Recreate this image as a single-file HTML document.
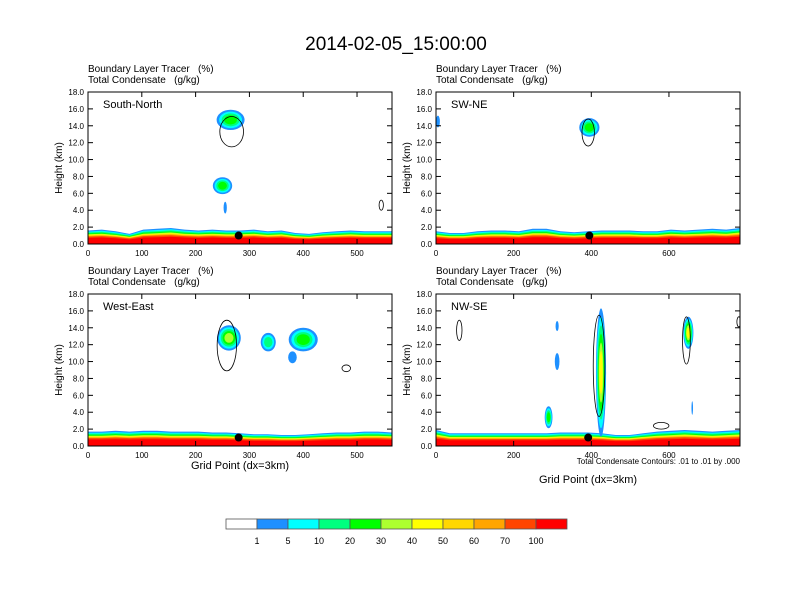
<!DOCTYPE html>
<html><head><meta charset="utf-8"><style>
body{margin:0;background:#fff}
svg{display:block;font-family:"Liberation Sans",sans-serif}
text{white-space:pre}
</style></head><body>
<svg id="fig" width="792" height="612" viewBox="0 0 792 612">
<text x="396" y="50" font-size="19" text-anchor="middle">2014-02-05_15:00:00</text>
<g id="panels"></g>
<g id="cbar"></g>
</svg>
<script>
const levels=["1","5","10","20","30","40","50","60","70","100"];
const colors=["#ffffff","#1e90ff","#00ffff","#00ff7f","#00ff00","#adff2f","#ffff00","#ffd700","#ffa500","#ff4500","#ff0000"];
const panelNames=["South-North","SW-NE","West-East","NW-SE"];
const xMaxes=[565,783,565,783];
const xTickVals=[[0,100,200,300,400,500],[0,200,400,600],[0,100,200,300,400,500],[0,200,400,600]];
const yTickVals=[0,2,4,6,8,10,12,14,16,18];
// boundary layer top (km) sampled evenly across x
const blTop=[
 [1.6,1.7,1.5,1.2,1.7,1.8,1.9,1.7,1.6,1.7,1.6,1.6,1.7,1.5,1.6,1.3,1.2,1.4,1.5,1.6,1.5,1.5,1.5],
 [1.5,1.3,1.3,1.5,1.6,1.6,1.5,1.8,1.8,1.5,1.4,1.5,1.6,1.6,1.6,1.5,1.5,1.7,1.6,1.7,1.8,1.7,1.9],
 [1.7,1.7,1.8,1.7,1.8,1.8,1.7,1.7,1.7,1.6,1.6,1.5,1.4,1.4,1.3,1.3,1.4,1.5,1.6,1.6,1.7,1.7,1.6],
 [1.9,1.5,1.5,1.5,1.5,1.5,1.5,1.5,1.5,1.6,1.6,1.6,1.5,1.3,1.3,1.5,1.7,1.8,1.9,1.8,1.7,1.8,1.9]
];
// clouds: [x, z(km), halfwidth(units), halfheight(km), peak level index]
const clouds=[
 [[265,14.7,26,1.2,4],[250,6.9,18,1.0,4],[255,4.3,3,0.7,1]],
 [[395,13.8,26,1.1,4],[5,14.5,5,0.7,1]],
 [[262,12.8,22,1.5,5],[335,12.3,14,1.1,3],[400,12.6,27,1.4,4],[380,10.5,8,0.7,1]],
 [[425,8.7,13,7.6,6],[312,10,6,1,1],[312,14.2,4,0.6,1],[290,3.4,10,1.3,4],[650,13.4,13,1.9,6],[660,4.5,2,0.8,1]]
];
// condensate contours: [x, z(km), halfwidth(units), halfheight(km)]
const contours=[
 [[267,13.3,22,1.8],[545,4.6,4,0.6]],
 [[392,13.2,16,1.6]],
 [[258,11.9,18,3.0],[480,9.2,8,0.4]],
 [[60,13.7,7,1.2],[420,9.5,15,6],[645,12.5,10,2.8],[780,14.7,5,0.6],[580,2.4,20,0.4]]
];
const markerX=[280,395,280,392];
const panelPos=[[88,92],[436,92],[88,294],[436,294]];
const W=304,H=152;
const NS="http://www.w3.org/2000/svg";
function mk(tag,attrs,parent){const e=document.createElementNS(NS,tag);for(const k in attrs)e.setAttribute(k,attrs[k]);parent.appendChild(e);return e;}
const root=document.getElementById('panels');
const fr=[1.0,0.92,0.85,0.78,0.72,0.68,0.64,0.6,0.55,0.45];
for(let p=0;p<4;p++){
 const [x0,y0]=panelPos[p];const xm=xMaxes[p];
 const sx=v=>x0+v/xm*W, sy=v=>y0+H-v/18*H;
 const g=mk('g',{},root);
 
 
 const t1=mk('text',{x:x0,y:y0-20,'font-size':10},g);t1.textContent="Boundary Layer Tracer   (%)";
 
 const t2=mk('text',{x:x0,y:y0-9,'font-size':10},g);t2.textContent="Total Condensate   (g/kg)";
 
 const cp=mk('clipPath',{id:'c'+p},g);mk('rect',{x:x0,y:y0,width:W,height:H},cp);
 const pg=mk('g',{'clip-path':'url(#c'+p+')'},g);
 const bl=blTop[p];const n=bl.length;
 for(let b=0;b<fr.length;b++){
  let d='M'+sx(0)+','+sy(0);
  for(let i=0;i<n;i++){d+=' L'+sx(i/(n-1)*xm).toFixed(1)+','+sy(bl[i]*fr[b]).toFixed(1);}
  d+=' L'+sx(xm)+','+sy(0)+'Z';
  const path=mk('path',{d:d,fill:colors[b+1]},pg);
  
  
 }
 clouds[p].forEach(c=>{
  for(let l=1;l<=c[4];l++){
   const f=1-(l-1)/(c[4]+1.5);
   const e=mk('ellipse',{cx:sx(c[0]),cy:sy(c[1]),rx:c[2]/xm*W*f,ry:c[3]/18*H*f,fill:colors[l]},pg);
   
   
  }
 });
 contours[p].forEach(c=>{
  const e=mk('ellipse',{cx:sx(c[0]),cy:sy(c[1]),rx:c[2]/xm*W,ry:c[3]/18*H,fill:'none',stroke:'#000','stroke-width':0.8},pg);
  
  
 });
 const m=mk('circle',{cx:sx(markerX[p]),cy:sy(1.0),r:4,fill:'#000'},g);
 
 const fb=mk('rect',{x:x0,y:y0,width:W,height:H,fill:'none',stroke:'#000','stroke-width':1},g);
 
 const lbl=mk('text',{x:x0+15,y:y0+16,'font-size':11},g);lbl.textContent=panelNames[p];
 
 yTickVals.forEach(v=>{
  const y=sy(v);
  mk('line',{x1:x0,x2:x0+5,y1:y,y2:y,stroke:'#000'},g);
  mk('line',{x1:x0+W,x2:x0+W-5,y1:y,y2:y,stroke:'#000'},g);
  const t=mk('text',{x:x0-4,y:y+3,'font-size':8,'text-anchor':'end'},g);t.textContent=v.toFixed(1);
  
 });
 xTickVals[p].forEach(v=>{
  const x=sx(v);
  mk('line',{x1:x,x2:x,y1:y0+H,y2:y0+H-5,stroke:'#000'},g);
  mk('line',{x1:x,x2:x,y1:y0,y2:y0+5,stroke:'#000'},g);
  const t=mk('text',{x:x,y:y0+H+12,'font-size':8,'text-anchor':'middle'},g);t.textContent=v;
  
 });
 const yt=mk('text',{x:0,y:0,'font-size':10,'text-anchor':'middle',transform:'translate('+(x0-26)+','+(y0+H/2)+') rotate(-90)'},g);
 yt.textContent="Height (km)";
 
 if(p>=2){
  const xt=mk('text',{x:x0+W/2,y:y0+H+23,'font-size':11,'text-anchor':'middle'},g);
  xt.textContent="Grid Point (dx=3km)";
  if(p===3)xt.setAttribute('y',y0+H+37);
  
 }
 if(p===3){
  const cn=mk('text',{x:x0+W,y:y0+H+18,'font-size':8,'text-anchor':'end'},g);
  cn.textContent="Total Condensate Contours: .01 to .01 by .000";
  
 }
}
const cb=document.getElementById('cbar');
const bx=226,bw=31,by=519,bh=10;
colors.forEach((c,i)=>{
 const r=mk('rect',{x:bx+i*bw,y:by,width:bw,height:bh,fill:c,stroke:'#555','stroke-width':0.8},cb);
 
});
levels.forEach((l,i)=>{
 const t=mk('text',{x:bx+(i+1)*bw,y:by+25,'font-size':9,'text-anchor':'middle'},cb);t.textContent=l;
 
});
</script>
</body></html>
